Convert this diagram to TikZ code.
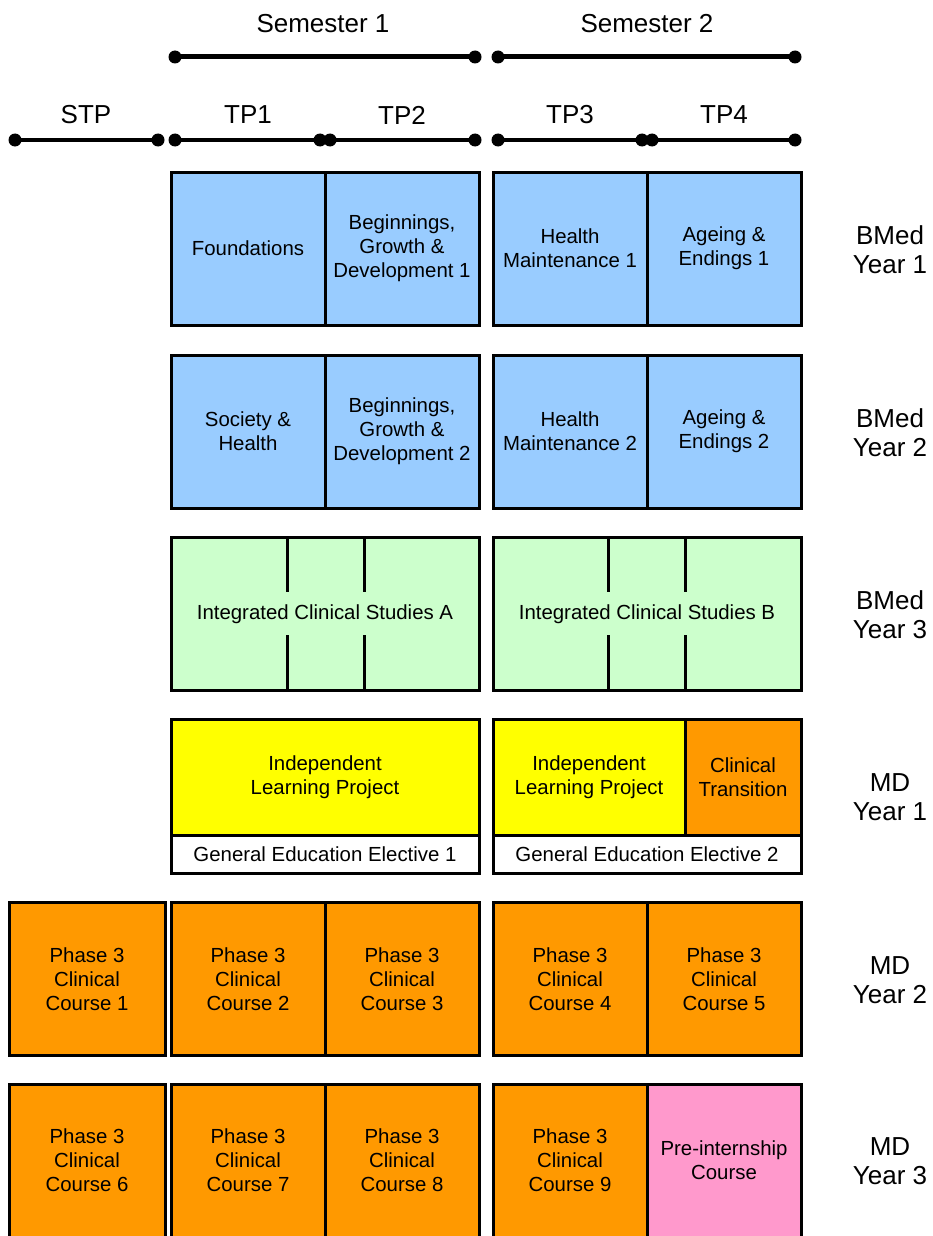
\documentclass[tikz,border=0pt]{standalone}
\usepackage{fontspec}
\setmainfont{Liberation Sans}
\usetikzlibrary{calc, positioning}
\definecolor{BMedBlue}{HTML}{99CCFF}
\definecolor{BMedGreen}{HTML}{CCFFCC}
\definecolor{ILPYellow}{HTML}{FFFF00}
\definecolor{ClinOrange}{HTML}{FF9900}
\definecolor{PrePink}{HTML}{FF99CC}

\begin{document}
\begin{tikzpicture}[x = 1pt, y = -1pt]%
    %
    \def\colw{154pt}%
    \def\rowh{153pt}%
    %
    \tikzstyle{box} = [draw = black, line width = 3pt, minimum width = \colw, minimum height = \rowh, align = center, inner sep = 0pt, font = \fontsize{20.4}{24}\selectfont]%
    \tikzstyle{bar} = [draw = black, line width = 4pt]%
    \tikzstyle{dot} = [fill = black]%
    \tikzstyle{period} = [font = \fontsize{26}{29}\selectfont]%
    \tikzstyle{year} = [align = center, font = \fontsize{26}{29}\selectfont]%
    %
    \useasboundingbox (0, 0) rectangle (932, 1236);%
    %
    % Timeline
    \coordinate (semAL) at (175, 57);%
    \coordinate (semAR) at (475, 57);%
    \coordinate (semBL) at (498, 57);%
    \coordinate (semBR) at (795, 57);%
    \coordinate (stpL) at (15, 140);%
    \coordinate (stpR) at (158, 140);%
    \coordinate (tpaL) at (175, 140);%
    \coordinate (tpaR) at (320, 140);%
    \coordinate (tpbL) at (330, 140);%
    \coordinate (tpbR) at (475, 140);%
    \coordinate (tpcL) at (498, 140);%
    \coordinate (tpcR) at (642, 140);%
    \coordinate (tpdL) at (652, 140);%
    \coordinate (tpdR) at (795, 140);%
    %
    \foreach \p in {semA, semB, stp, tpa, tpb, tpc, tpd} {%
        \draw [bar] (\p L) -- (\p R);%
        \fill [dot] (\p L) circle (6.5pt) (\p R) circle (6.5pt);%
    }%
    \draw [bar, line width = 5pt] (semAL) -- (semAR);%
    \draw [bar, line width = 5pt] (semBL) -- (semBR);%
    %
    \node (semA) [period] at (323, 24) {Semester 1};%
    \node (semB) [period] at (647, 24) {Semester 2};%
    \node (stp) [period] at (86, 115) {STP};%
    \node (tpa) [period] at (248, 115) {TP1};%
    \node (tpb) [period] at (402, 115) {TP2};%
    \node (tpc) [period] at (570, 115) {TP3};%
    \node (tpd) [period] at (724, 115) {TP4};%
    %
    % BMed Year 1
    \node (found) [box, fill = BMedBlue] at (248, 248.5) {Foundations};%
    \node (bgdA) [box, fill = BMedBlue] at (402, 248.5) {Beginnings,\\Growth \&\\Development 1};%
    \node (hmA) [box, fill = BMedBlue] at (570, 248.5) {Health\\Maintenance 1};%
    \node (aeA) [box, fill = BMedBlue] at (724, 248.5) {Ageing \&\\Endings 1};%
    %
    % BMed Year 2
    \node (soc) [box, fill = BMedBlue] at (248, 431.5) {Society \&\\Health};%
    \node (bgdB) [box, fill = BMedBlue] at (402, 431.5) {Beginnings,\\Growth \&\\Development 2};%
    \node (hmB) [box, fill = BMedBlue] at (570, 431.5) {Health\\Maintenance 2};%
    \node (aeB) [box, fill = BMedBlue] at (724, 431.5) {Ageing \&\\Endings 2};%
    %
    % BMed Year 3
    \node (icsA) [box, fill = BMedGreen, minimum width = 308pt] at (325, 614) {Integrated Clinical Studies A};%
    \node (icsB) [box, fill = BMedGreen, minimum width = 308pt] at (647, 614) {Integrated Clinical Studies B};%
    \foreach \s/\x in {icsA/287, icsA/364, icsB/608, icsB/685} {%
        \draw [line width = 3pt] (\x, 537) -- (\x, 592);%
        \draw [line width = 3pt] (\x, 635) -- (\x, 691);%
    }%
    %
    % MD Year 1
    \node (ilpA) [box, fill = ILPYellow, minimum width = 308pt, minimum height = 116pt] at (325, 777) {Independent\\Learning Project};%
    \node (geA) [box, fill = white, minimum width = 308pt, minimum height = 38pt] at (325, 854) {General Education Elective 1};%
    \node (ilpB) [box, fill = ILPYellow, minimum width = 192pt, minimum height = 116pt] at (589, 777) {Independent\\Learning Project};%
    \node (ct) [box, fill = ClinOrange, minimum width = 116pt, minimum height = 116pt] at (743, 777) {Clinical\\Transition};%
    \node (geB) [box, fill = white, minimum width = 308pt, minimum height = 38pt] at (647, 854) {General Education Elective 2};%
    %
    % MD Year 2
    \node (pcA) [box, fill = ClinOrange, minimum width = 156pt] at (87, 979) {Phase 3\\Clinical\\Course 1};%
    \node (pcB) [box, fill = ClinOrange] at (248, 979) {Phase 3\\Clinical\\Course 2};%
    \node (pcC) [box, fill = ClinOrange] at (402, 979) {Phase 3\\Clinical\\Course 3};%
    \node (pcD) [box, fill = ClinOrange] at (570, 979) {Phase 3\\Clinical\\Course 4};%
    \node (pcE) [box, fill = ClinOrange] at (724, 979) {Phase 3\\Clinical\\Course 5};%
    %
    % MD Year 3
    \node (pcF) [box, fill = ClinOrange, minimum width = 156pt, minimum height = 170pt, text depth = 17pt] at (87, 1169) {Phase 3\\Clinical\\Course 6};%
    \node (pcG) [box, fill = ClinOrange, minimum height = 170pt, text depth = 17pt] at (248, 1169) {Phase 3\\Clinical\\Course 7};%
    \node (pcH) [box, fill = ClinOrange, minimum height = 170pt, text depth = 17pt] at (402, 1169) {Phase 3\\Clinical\\Course 8};%
    \node (pcI) [box, fill = ClinOrange, minimum height = 170pt, text depth = 17pt] at (570, 1169) {Phase 3\\Clinical\\Course 9};%
    \node (pre) [box, fill = PrePink, minimum height = 170pt, text depth = 17pt] at (724, 1169) {Pre-internship\\Course};%
    %
    % Years
    \node (yrA) [year] at (890, 250) {BMed\\Year 1};%
    \node (yrB) [year] at (890, 433) {BMed\\Year 2};%
    \node (yrC) [year] at (890, 615) {BMed\\Year 3};%
    \node (yrD) [year] at (890, 797) {MD\\Year 1};%
    \node (yrE) [year] at (890, 980) {MD\\Year 2};%
    \node (yrF) [year] at (890, 1161) {MD\\Year 3};%
    %
\end{tikzpicture}
\end{document}
